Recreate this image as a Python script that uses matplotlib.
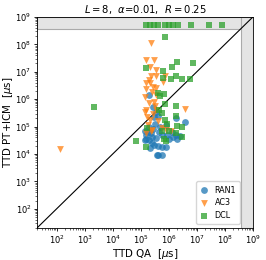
import numpy as np
import matplotlib
matplotlib.use("Agg")
import matplotlib.pyplot as plt

# log10 values
ran1_logx = [5.53,5.47,5.60,6.57,5.20,5.41,5.53,5.28,5.77,6.14,6.25,5.47,5.34,5.77,5.89,5.59,5.74,6.41,5.28,5.44,6.26,5.89,5.15,5.25,5.35,5.65,5.20,5.40,5.60,6.00,6.30,5.50,5.70,5.30,5.45,6.10,5.62,5.15,5.95]
ran1_logy = [5.54,5.36,5.40,5.16,4.69,4.63,4.57,4.51,4.69,4.63,4.69,4.33,4.21,4.27,4.27,3.96,3.96,4.67,6.15,5.70,5.30,5.06,4.85,4.80,4.75,4.80,4.55,4.40,4.30,4.55,4.55,5.10,5.00,5.00,4.90,4.80,3.96,4.50,4.70]

ac3_logx = [5.37,5.20,5.49,5.34,5.53,5.37,5.53,5.78,5.20,5.34,5.20,5.41,5.14,5.53,5.28,5.47,5.53,5.20,5.22,5.34,6.57,5.41,5.20,6.08,5.89,5.86,2.11,5.37,5.45,5.30,5.50,5.25,5.60,5.45,5.15,5.75,5.55]
ac3_logy = [8.04,7.43,7.43,7.19,7.07,6.86,6.86,6.62,6.58,6.58,6.36,6.27,6.09,6.15,5.85,5.91,5.61,5.61,5.36,5.24,5.63,4.88,4.76,4.84,4.88,6.85,4.17,4.84,6.45,6.70,5.75,5.05,5.20,5.45,5.55,4.95,6.40]

dcl_timeout_logx = [5.19,5.33,5.48,5.63,5.85,5.99,6.14,6.32,6.80,7.42,7.90]
timeout_logy = 8.72
dcl_logx = [5.86,6.30,6.88,5.20,6.10,5.78,5.81,6.07,6.26,6.48,6.74,5.60,5.82,5.87,6.24,5.74,3.33,6.24,5.87,6.29,6.46,6.24,6.48,5.21,5.77,5.83,4.83,5.20,5.89,5.65,5.95,5.70,6.00]
dcl_logy = [8.28,7.37,7.33,7.13,7.16,7.03,6.78,6.74,6.86,6.74,6.74,6.24,6.19,5.82,5.74,5.50,5.70,5.39,5.24,5.02,4.97,4.78,4.61,4.96,4.83,4.54,4.47,4.27,4.49,5.60,5.10,6.10,4.85]

timeout = 3.6e8
lo, hi = 20, 1e9

fig = plt.figure(figsize=(2.66, 2.60), dpi=100)
ax = fig.add_axes([0.139, 0.123, 0.812, 0.812])

ax.axhspan(timeout, hi, facecolor='#e4e4e4', edgecolor='#aaaaaa', lw=0.8, zorder=0)
ax.axvspan(timeout, hi, facecolor='#e4e4e4', edgecolor='#aaaaaa', lw=0.8, zorder=0)
ax.plot([lo, hi], [lo, hi], color='black', lw=0.8, zorder=1)

ms = 24
ax.scatter(10**np.array(ran1_logx), 10**np.array(ran1_logy), s=ms, marker='o', color='#1f77b4', alpha=0.75, lw=0, label='RAN1', zorder=2)
ax.scatter(10**np.array(ac3_logx), 10**np.array(ac3_logy), s=ms, marker='v', color='#ff7f0e', alpha=0.75, lw=0, label='AC3', zorder=2)
dx = list(dcl_logx) + list(dcl_timeout_logx)
dy = list(dcl_logy) + [timeout_logy]*len(dcl_timeout_logx)
ax.scatter(10**np.array(dx), 10**np.array(dy), s=ms, marker='s', color='#2ca02c', alpha=0.75, lw=0, label='DCL', zorder=2)

ax.set_xscale('log')
ax.set_yscale('log')
ax.set_xlim(lo, hi)
ax.set_ylim(lo, hi)
ax.set_xticks([10**k for k in range(2, 10)])
ax.set_yticks([10**k for k in range(2, 10)])
ax.tick_params(axis='both', which='major', labelsize=6, length=2.5, width=0.6, pad=1.5)
ax.tick_params(axis='both', which='minor', length=1.5, width=0.4)
for sp in ax.spines.values():
    sp.set_linewidth(0.6)

ax.set_xlabel(r'TTD QA  [$\mu$s]', fontsize=7.4, labelpad=0.5)
ax.set_ylabel(r'TTD PT+ICM  [$\mu$s]', fontsize=7.4, labelpad=0.5)
ax.set_title(r'$L=8$,  $\alpha$=0.01,  $R=0.25$', fontsize=7.2, pad=3)
ax.legend(loc='lower right', fontsize=5.8, frameon=True, borderpad=0.5, handlelength=1.0,
          handletextpad=0.8, labelspacing=0.45, borderaxespad=0, bbox_to_anchor=(0.94, 0.02))

fig.savefig('out.png', dpi=100)
